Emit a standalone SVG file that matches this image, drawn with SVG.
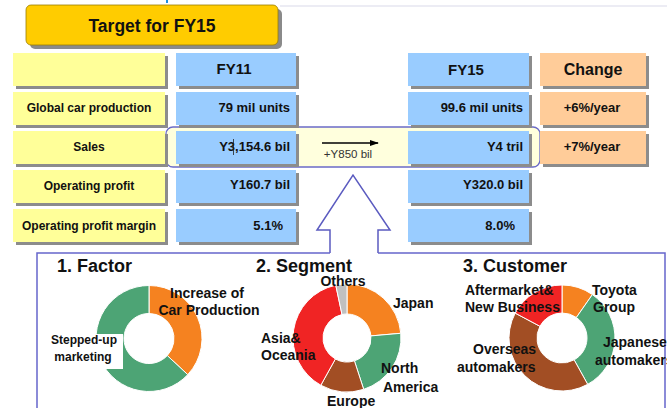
<svg xmlns="http://www.w3.org/2000/svg" width="667" height="408" viewBox="0 0 667 408">
<style>
text{font-family:"Liberation Sans",Arial,sans-serif;font-weight:bold;fill:#111}
.sh{fill:#8c8c8c}
.yl{fill:#FFFF99}
.bl{fill:#99CCFF}
.or{fill:#FFCC99}
.lab{font-size:12px;text-anchor:middle}
.val{font-size:13px;text-anchor:end}
.hd{font-size:15px;text-anchor:middle}
.ttl{font-size:18px}
.dl{font-size:14px}
.sl{stroke:#fff;stroke-width:1}
.c-or{fill:#F58220}.c-gr{fill:#4DA475}.c-rd{fill:#F02424}.c-br{fill:#A24E24}.c-gy{fill:#C0C0C0}
</style>
<defs>
<marker id="ah" viewBox="0 0 10 10" refX="9" refY="5" markerWidth="7" markerHeight="7" orient="auto"><path d="M0,1.5 L10,5 L0,8.5 Z" fill="#000"/></marker>
</defs>
<rect width="667" height="408" fill="#fff"/>
<line x1="280" y1="6" x2="667" y2="6" stroke="#ECECF4" stroke-width="2"/>
<line x1="167" y1="0" x2="167" y2="3" stroke="#1E8FE0" stroke-width="2"/>

<g id="title">
<rect x="30" y="9" width="252" height="40" rx="5" fill="#8a8a8a"/>
<rect x="26" y="5" width="252" height="40" rx="5" fill="#FFCC00" stroke="#9a7d00" stroke-width="0.8"/>
<text x="152" y="32" font-size="17.5" text-anchor="middle">Target for FY15</text>
</g>

<g id="sales-band">
<rect x="166" y="127" width="374" height="40" rx="7" fill="#FFFFDD" stroke="#6B6BC8" stroke-width="1.3"/>
</g>

<g id="labels">
<rect class="sh" x="16" y="56" width="152" height="33"/><rect class="yl" x="13" y="53" width="152" height="33"/>
<rect class="sh" x="16" y="95" width="152" height="33"/><rect class="yl" x="13" y="92" width="152" height="33"/>
<text class="lab" x="89" y="112">Global car production</text>
<rect class="sh" x="16" y="134" width="152" height="33"/><rect class="yl" x="13" y="131" width="152" height="33"/>
<text class="lab" x="89" y="151">Sales</text>
<rect class="sh" x="16" y="173" width="152" height="33"/><rect class="yl" x="13" y="170" width="152" height="33"/>
<text class="lab" x="89" y="190">Operating profit</text>
<rect class="sh" x="16" y="212" width="152" height="33"/><rect class="yl" x="13" y="209" width="152" height="33"/>
<text class="lab" x="89" y="230">Operating profit margin</text>
</g>

<g id="fy11">
<rect class="sh" x="179" y="56" width="120" height="33"/><rect class="bl" x="176" y="53" width="120" height="33"/>
<text class="hd" x="234" y="74">FY11</text>
<rect class="sh" x="179" y="95" width="120" height="33"/><rect class="bl" x="176" y="92" width="120" height="33"/>
<text class="val" x="290" y="112">79 mil units</text>
<rect class="sh" x="179" y="134" width="120" height="33"/><rect class="bl" x="176" y="131" width="120" height="33"/>
<text class="val" x="290" y="151">Y3,154.6 bil</text>
<line x1="233.5" y1="139" x2="233.5" y2="155" stroke="#222" stroke-width="0.8"/>
<rect class="sh" x="179" y="173" width="120" height="33"/><rect class="bl" x="176" y="170" width="120" height="33"/>
<text class="val" x="290" y="189">Y160.7 bil</text>
<rect class="sh" x="179" y="212" width="120" height="33"/><rect class="bl" x="176" y="209" width="120" height="33"/>
<text class="val" x="283" y="230">5.1%</text>
</g>

<g id="fy15">
<rect class="sh" x="411" y="56" width="121" height="33"/><rect class="bl" x="408" y="53" width="121" height="33"/>
<text class="hd" x="466" y="75">FY15</text>
<rect class="sh" x="411" y="95" width="121" height="33"/><rect class="bl" x="408" y="92" width="121" height="33"/>
<text class="val" x="523" y="112">99.6 mil units</text>
<rect class="sh" x="411" y="134" width="121" height="33"/><rect class="bl" x="408" y="131" width="121" height="33"/>
<text class="val" x="523" y="151">Y4 tril</text>
<rect class="sh" x="411" y="173" width="121" height="33"/><rect class="bl" x="408" y="170" width="121" height="33"/>
<text class="val" x="523" y="189">Y320.0 bil</text>
<rect class="sh" x="411" y="212" width="121" height="33"/><rect class="bl" x="408" y="209" width="121" height="33"/>
<text class="val" x="515" y="230">8.0%</text>
</g>

<g id="change">
<rect class="sh" x="543" y="56" width="106" height="33"/><rect class="or" x="540" y="53" width="106" height="33"/>
<text x="593" y="75" font-size="16" text-anchor="middle">Change</text>
<rect class="sh" x="543" y="95" width="106" height="33"/><rect class="or" x="540" y="92" width="106" height="33"/>
<text x="592" y="112" font-size="13" text-anchor="middle">+6%/year</text>
<rect class="sh" x="543" y="134" width="106" height="33"/><rect class="or" x="540" y="131" width="106" height="33"/>
<text x="592" y="151" font-size="13" text-anchor="middle">+7%/year</text>
</g>

<g id="connectors">
<line x1="322" y1="143" x2="378" y2="143" stroke="#000" stroke-width="1.3" marker-end="url(#ah)"/>
<text x="348" y="158" font-size="11.5" text-anchor="middle" style="font-weight:normal;fill:#333">+Y850 bil</text>
<path d="M330,253 V230 H317 L353,175 L390,230 H378 V253" fill="#fff" stroke="#5B5BC0" stroke-width="1.5" stroke-linejoin="miter"/>
<path d="M330,253 H37 V408 M378,253 H665 V408" fill="none" stroke="#6666CC" stroke-width="1.5"/>
</g>

<g id="factor">
<text class="ttl" x="57" y="272">1. Factor</text>
<path class="c-or sl" d="M149,285.5 A53,53 0 0 1 187.76,374.65 L167.28,355.55 A25,25 0 0 0 149,313.5 Z"/>
<path class="c-gr sl" d="M187.76,374.65 A53,53 0 1 1 149,285.5 L149,313.5 A25,25 0 1 0 167.28,355.55 Z"/>
<rect x="45" y="334" width="78" height="35" fill="#fff"/>
<text class="dl" x="207" y="298" text-anchor="middle">Increase of</text>
<text class="dl" x="209" y="315" text-anchor="middle">Car Production</text>
<text x="84" y="344" font-size="12" text-anchor="middle">Stepped-up</text>
<text x="83" y="361" font-size="12" text-anchor="middle">marketing</text>
</g>

<g id="segment">
<text class="ttl" x="256" y="272">2. Segment</text>
<path class="c-or sl" d="M347,284 A54,54 0 0 1 400.79,333.29 L370.91,335.91 A24,24 0 0 0 347,314 Z"/>
<path class="c-gr sl" d="M400.79,333.29 A54,54 0 0 1 363.69,389.36 L354.42,360.83 A24,24 0 0 0 370.91,335.91 Z"/>
<path class="c-br sl" d="M363.69,389.36 A54,54 0 0 1 320.82,385.23 L335.36,358.99 A24,24 0 0 0 354.42,360.83 Z"/>
<path class="c-rd sl" d="M320.82,385.23 A54,54 0 0 1 335.77,285.18 L342.01,314.53 A24,24 0 0 0 335.36,358.99 Z"/>
<path class="c-gy sl" d="M335.77,285.18 A54,54 0 0 1 347,284 L347,314 A24,24 0 0 0 342.01,314.53 Z"/>
<text class="dl" x="343" y="286" text-anchor="middle">Others</text>
<text class="dl" x="393" y="308">Japan</text>
<text class="dl" x="261" y="343">Asia&amp;</text>
<text class="dl" x="261" y="360">Oceania</text>
<text class="dl" x="381" y="373">North</text>
<text class="dl" x="383" y="392">America</text>
<text class="dl" x="327" y="406">Europe</text>
</g>

<g id="customer">
<text class="ttl" x="463" y="272">3. Customer</text>
<path class="c-or sl" d="M562,285 A53,53 0 0 1 592.40,294.58 L576.34,317.52 A25,25 0 0 0 562,313 Z"/>
<path class="c-gr sl" d="M592.40,294.58 A53,53 0 0 1 587.69,384.35 L574.12,359.87 A25,25 0 0 0 576.34,317.52 Z"/>
<path class="c-br sl" d="M587.69,384.35 A53,53 0 0 1 515.20,313.12 L539.93,326.26 A25,25 0 0 0 574.12,359.87 Z"/>
<path class="c-rd sl" d="M515.20,313.12 A53,53 0 0 1 562,285 L562,313 A25,25 0 0 0 539.93,326.26 Z"/>
<text class="dl" x="465" y="295">Aftermarket&amp;</text>
<text class="dl" x="465" y="312">New Business</text>
<text class="dl" x="592" y="295">Toyota</text>
<text class="dl" x="593" y="312">Group</text>
<text class="dl" x="603" y="347">Japanese</text>
<text class="dl" x="595" y="365">automakers</text>
<text class="dl" x="473" y="354">Overseas</text>
<text class="dl" x="457" y="372">automakers</text>
</g>
</svg>
